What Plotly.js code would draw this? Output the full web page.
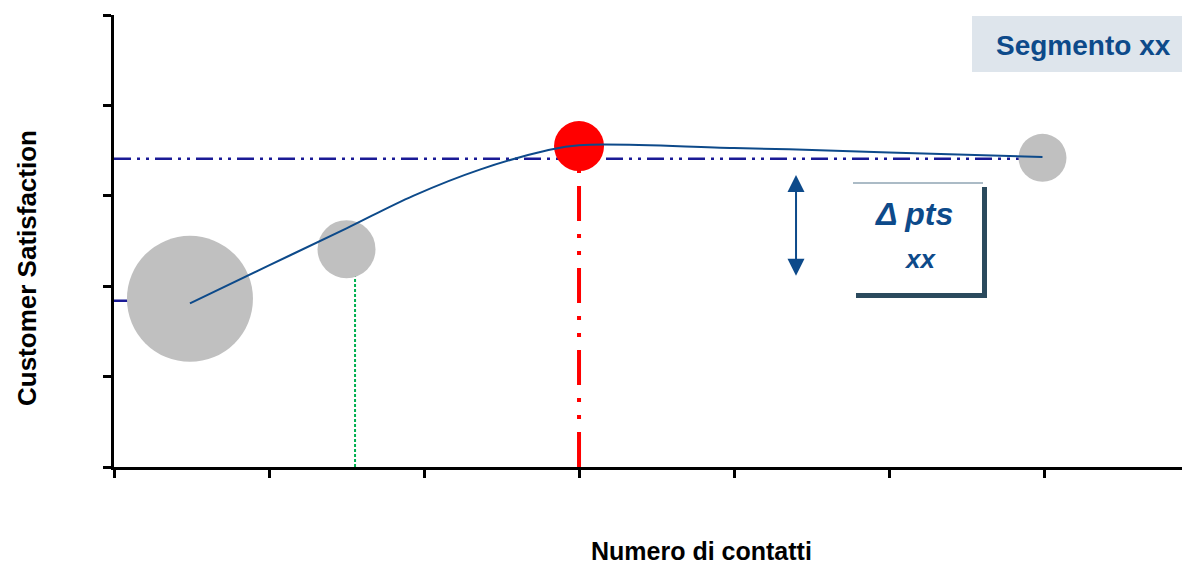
<!DOCTYPE html>
<html>
<head>
<meta charset="utf-8">
<script src="https://cdn.plot.ly/plotly-3.0.1.min.js"></script>
<style>
html,body{margin:0;padding:0;background:#fff;}
#chart{width:1182px;height:566px;}
</style>
</head>
<body>
<div id="chart"></div>
<script>
// ---- data ----
var segmentLabel = "Segmento xx";
var deltaLabel = "Δ pts";
var deltaValue = "xx";
var xTitle = "Numero di contatti";
var yTitle = "Customer Satisfaction";

// bubbles (number of contacts, satisfaction, volume)
var bubbleX = [0.49, 1.50, 3.00, 5.99];
var bubbleY = [1.86, 2.41, 3.55, 3.42];
var bubbleVolume = [63, 29, 25, 24];
var highlightIndex = 2;

// fitted satisfaction curve
var curveX = [0.49, 1.00, 1.50, 1.93, 2.36, 2.79, 3.00, 4.00, 5.00, 5.99];
var curveY = [1.81, 2.23, 2.64, 3.00, 3.29, 3.50, 3.56, 3.53, 3.48, 3.43];

// reference levels
var targetLevel = 3.41;      // horizontal benchmark
var baseLevel = 1.84;        // starting level
var optimumX = 3.00;         // optimal number of contacts
var optimumY = 3.55;
var secondX = 1.555;
var secondY = 2.41;
var deltaTop = 3.23;
var deltaBottom = 2.10;
var deltaX = 4.40;

var xTicks = [0, 1, 2, 3, 4, 5, 6];
var yTicks = [0, 1, 2, 3, 4, 5];

// ---- styles ----
var FONT = "Liberation Sans, Arial, Helvetica, sans-serif";
var NAVY = "#1a1a96";
var BLUE = "#0d4a8a";
var dashDot2 = "17px,6px,3px,6px,3px,6px";
var dashDot4 = "35px,13px,4px,13px,4px,13px";

var traces = [
  { // benchmark dash-dot line
    x: [0, bubbleX[3]], y: [targetLevel, targetLevel],
    mode: "lines", line: {color: NAVY, width: 2.5, dash: dashDot2}
  },
  { // base level short line
    x: [0, bubbleX[0]], y: [baseLevel, baseLevel],
    mode: "lines", line: {color: NAVY, width: 2.5, dash: dashDot2}
  },
  { // green dotted drop line
    x: [secondX, secondX], y: [0, secondY],
    mode: "lines", line: {color: "#00b050", width: 2, dash: "3px,2px"}
  },
  { // red optimum drop line
    x: [optimumX, optimumX], y: [0, optimumY],
    mode: "lines", line: {color: "#ff0000", width: 4, dash: dashDot4}
  },
  { // bubbles
    x: bubbleX, y: bubbleY, mode: "markers",
    marker: {
      size: bubbleVolume, sizemode: "diameter", sizeref: 0.5,
      color: bubbleX.map(function(v, i){ return i === highlightIndex ? "#ff0000" : "#c0c0c0"; }),
      opacity: 1, line: {width: 0}
    }
  },
  { // curve
    x: curveX, y: curveY, mode: "lines",
    line: {color: BLUE, width: 2, shape: "spline", smoothing: 1}
  }
];

function px2x(p){ return (p - 114) / 1068; }
function px2y(p){ return (467 - p) / 452; }

var layout = {
  width: 1182, height: 566,
  margin: {l: 114, r: 0, t: 15, b: 99, pad: 0},
  paper_bgcolor: "#ffffff", plot_bgcolor: "#ffffff",
  showlegend: false, hovermode: false,
  font: {family: FONT, color: "#000"},
  xaxis: {
    range: [0, 6.89], tickvals: xTicks, showticklabels: false,
    ticks: "outside", ticklen: 8, tickwidth: 3, tickcolor: "#000",
    showline: true, linewidth: 3, linecolor: "#000",
    showgrid: false, zeroline: false, fixedrange: true
  },
  yaxis: {
    range: [0, 5], tickvals: yTicks, showticklabels: false,
    ticks: "outside", ticklen: 8, tickwidth: 3, tickcolor: "#000",
    showline: true, linewidth: 3, linecolor: "#000",
    showgrid: false, zeroline: false, fixedrange: true
  },
  shapes: [
    {type: "rect", xref: "paper", yref: "paper",
     x0: px2x(972), x1: 1.0, y0: px2y(72), y1: px2y(16),
     fillcolor: "#dee5ec", line: {width: 0}, layer: "below"},
    {type: "line", xref: "paper", yref: "paper",
     x0: px2x(853), x1: px2x(983), y0: px2y(183), y1: px2y(183),
     line: {color: "#8fa5b3", width: 1.5}},
    {type: "rect", xref: "paper", yref: "paper",
     x0: px2x(982), x1: px2x(987), y0: px2y(298), y1: px2y(187),
     fillcolor: "#2b4a5d", line: {width: 0}},
    {type: "rect", xref: "paper", yref: "paper",
     x0: px2x(856), x1: px2x(987), y0: px2y(298), y1: px2y(293),
     fillcolor: "#2b4a5d", line: {width: 0}}
  ],
  annotations: [
    {xref: "paper", yref: "paper", x: px2x(1083), y: px2y(45),
     text: segmentLabel, showarrow: false, xanchor: "center", yanchor: "middle",
     font: {family: FONT, size: 28, color: BLUE, weight: "bold"}},
    {xref: "paper", yref: "paper", x: px2x(914), y: px2y(214),
     text: "<i>" + deltaLabel + "</i>", showarrow: false, xanchor: "center", yanchor: "middle",
     font: {family: FONT, size: 32, color: BLUE, weight: "bold"}},
    {xref: "paper", yref: "paper", x: px2x(920), y: px2y(259),
     text: "<i>" + deltaValue + "</i>", showarrow: false, xanchor: "center", yanchor: "middle",
     font: {family: FONT, size: 26, color: BLUE, weight: "bold"}},
    {xref: "x", yref: "y", x: deltaX, y: deltaTop, axref: "x", ayref: "y",
     ax: deltaX, ay: deltaBottom, text: "", showarrow: true,
     arrowhead: 2, startarrowhead: 2, arrowside: "end+start",
     arrowsize: 1.7, startarrowsize: 1.7, arrowwidth: 2, arrowcolor: BLUE},
    {xref: "paper", yref: "paper", x: px2x(27), y: px2y(268),
     text: yTitle, textangle: -90, showarrow: false, xanchor: "center", yanchor: "middle",
     font: {family: FONT, size: 26, color: "#000", weight: "bold"}},
    {xref: "paper", yref: "paper", x: px2x(701), y: px2y(551),
     text: xTitle, showarrow: false, xanchor: "center", yanchor: "middle",
     font: {family: FONT, size: 25, color: "#000", weight: "bold"}}
  ]
};

Plotly.newPlot("chart", traces, layout, {staticPlot: true, displayModeBar: false});
</script>
</body>
</html>
